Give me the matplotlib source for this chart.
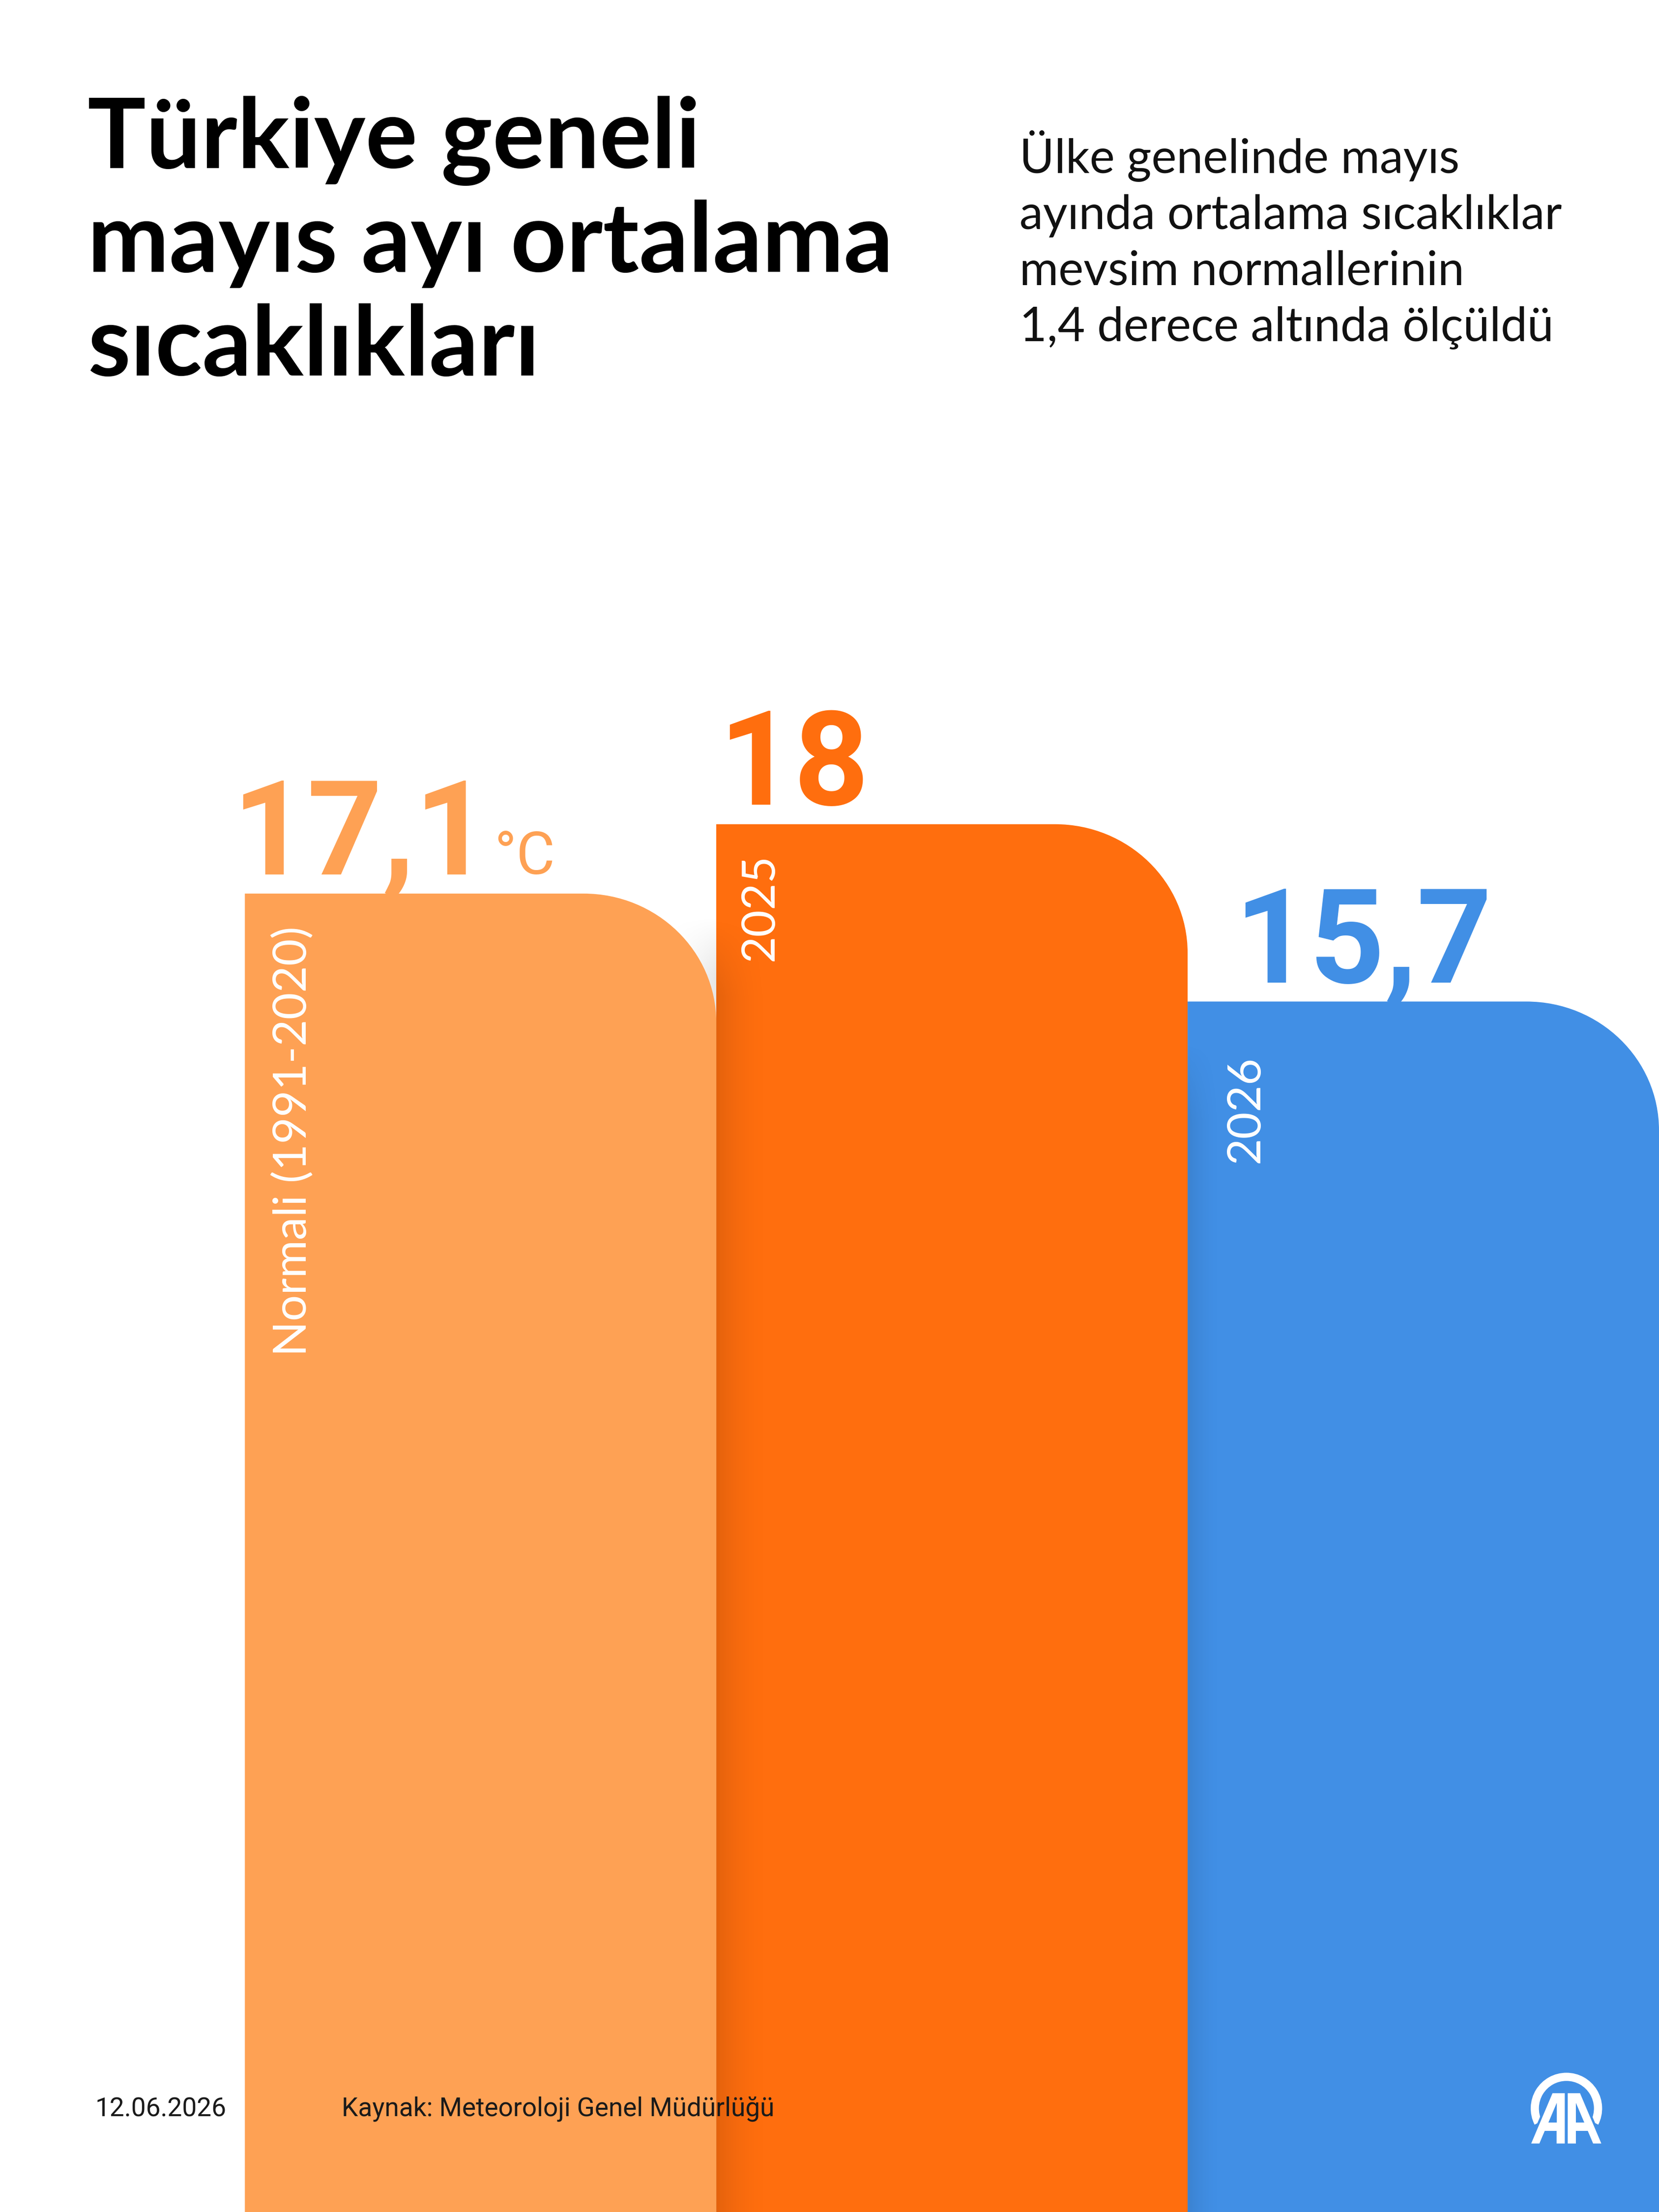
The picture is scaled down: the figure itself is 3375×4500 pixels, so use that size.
import matplotlib
matplotlib.use("Agg")
import matplotlib.pyplot as plt
import numpy as np
from matplotlib.path import Path
from matplotlib.patches import PathPatch, Polygon, Wedge
import matplotlib.patheffects as pe

# ---------------- data ----------------
categories = ["Normali (1991-2020)", "2025", "2026"]
values = [17.1, 18.0, 15.7]
value_labels = ["17,1", "18", "15,7"]
unit_label = "°C"
bar_colors = ["#FEA154", "#FF6E0E", "#418FE5"]

title_lines = ["Türkiye geneli", "mayıs ayı ortalama", "sıcaklıkları"]
subtitle_lines = ["Ülke genelinde mayıs", "ayında ortalama sıcaklıklar",
                  "mevsim normallerinin", "1,4 derece altında ölçüldü"]
date_text = "12.06.2026"
source_text = "Kaynak: Meteoroloji Genel Müdürlüğü"

# ---------------- layout ----------------
W, H, DPI = 3375, 4500, 300
fig = plt.figure(figsize=(W / DPI, H / DPI), dpi=DPI)
fig.patch.set_facecolor("white")
ax = fig.add_axes([0, 0, 1, 1])
XMIN, XMAX, YMAX = -0.5195, 3.0, 28.69
ax.set_xlim(XMIN, XMAX)
ax.set_ylim(0, YMAX)
ax.axis("off")
sx = W / (XMAX - XMIN)   # px per x unit
sy = H / YMAX            # px per y unit
renderer = fig.canvas.get_renderer()


def px2fy(py):
    return 1 - py / H


def fit_size(text, target_px, base=40, **kw):
    t = fig.text(0, 0, text, fontsize=base, **kw)
    w = t.get_window_extent(renderer).width
    t.remove()
    return base * target_px / w


# ---------------- bars ----------------
bars = ax.bar(np.arange(len(values)), values, width=1.0, align="edge",
              color=bar_colors, zorder=2)
rx_px, ry_px = 270, 262
patches = []
for rect, col in zip(bars, bar_colors):
    x0, w, h = rect.get_x(), rect.get_width(), rect.get_height()
    x1 = x0 + w
    rx, ry = rx_px / sx, ry_px / sy
    k = 0.5523
    verts = [(x0, 0), (x0, h), (x1 - rx, h),
             (x1 - rx * (1 - k), h), (x1, h - ry * (1 - k)), (x1, h - ry),
             (x1, 0), (x0, 0)]
    codes = [Path.MOVETO, Path.LINETO, Path.LINETO,
             Path.CURVE4, Path.CURVE4, Path.CURVE4,
             Path.LINETO, Path.CLOSEPOLY]
    pp = PathPatch(Path(verts, codes), facecolor=col, edgecolor="none", zorder=2)
    ax.add_patch(pp)
    rect.set_visible(False)
    patches.append(pp)


def shadow(x0, x1, ytop, ramp, amax, rgb, left_dark, clip, zorder):
    nx, ny = 200, 200
    t = np.linspace(0, 1, nx)
    ha = (1 - t) ** 2 if left_dark else t ** 2
    yy = np.linspace(0, ytop, ny)
    va = np.clip((ytop - yy) / ramp, 0, 1)
    alpha = amax * va[:, None] * ha[None, :]
    img = np.zeros((ny, nx, 4))
    img[..., 0], img[..., 1], img[..., 2] = rgb
    img[..., 3] = alpha
    im = ax.imshow(img, extent=(x0, x1, 0, ytop), origin="lower",
                   aspect="auto", interpolation="bilinear", zorder=zorder)
    if clip is not None:
        im.set_clip_path(clip)
    return im


# gray shadow on background, left of bar 2 (visible in the curve gap)
shadow(1 - 150 / sx, 1.0, values[0] - 0.25, 0.8, 0.10, (0, 0, 0), False, None, 1.5)
# dark shadow on bar 2 left edge
shadow(1.0, 1.0 + 115 / sx, values[0] - 0.3, 1.0, 0.11, (0, 0, 0), True, patches[1], 2.5)
# dark shadow on bar 3 left edge
shadow(2.0, 2.0 + 75 / sx, values[2] - 0.5, 1.0, 0.09, (0, 0, 0), True, patches[2], 2.5)
ax.set_xlim(XMIN, XMAX)
ax.set_ylim(0, YMAX)

# ---------------- value labels ----------------
val_dx_px = [-26, 5, 95]
val_size = 64
for i, (v, lab, col) in enumerate(zip(values, value_labels, bar_colors)):
    t = ax.annotate(lab, xy=(i + val_dx_px[i] / sx, v), xytext=(0, 9.5),
                    textcoords="offset points", ha="left", va="baseline",
                    fontsize=val_size, fontweight="bold", family="Roboto",
                    color=col, zorder=5)
    if i == 0:
        ax.annotate(unit_label, xy=(1, v), xycoords=(t, "data"),
                    xytext=(2, 9.5), textcoords="offset points",
                    ha="left", va="baseline", fontsize=29, family="Roboto",
                    color=col, zorder=5)

# ---------------- category labels (rotated) ----------------
cat_size = fit_size(categories[0], 875, family="Lato")
cat_dx_px = [125, 116, 145]
cat_gap_px = [66, 60, 110]
for i, (v, c) in enumerate(zip(values, categories)):
    ax.text(i + cat_dx_px[i] / sx, v - cat_gap_px[i] / sy, c, rotation=90,
            rotation_mode="anchor", ha="right", va="baseline",
            fontsize=cat_size, family="Lato", color="white", zorder=5)

# ---------------- title & subtitle ----------------
title_size = fit_size(title_lines[1], 1640, family="Lato", fontweight="bold")
for j, line in enumerate(title_lines):
    fig.text(178 / W, px2fy(342 + 211 * j), line, ha="left", va="baseline",
             fontsize=title_size, fontweight="bold", family="Lato", color="#000000")

sub_size = fit_size(subtitle_lines[1], 1105, family="Lato")
for j, line in enumerate(subtitle_lines):
    fig.text(2074 / W, px2fy(352 + 114 * j), line, ha="left", va="baseline",
             fontsize=sub_size, family="Lato", color="#111111")

# ---------------- footer ----------------
foot_size = fit_size(date_text, 267, family="Roboto")
fig.text(194 / W, px2fy(4305), date_text, ha="left", va="baseline",
         fontsize=foot_size, family="Roboto", color="#1a1a1a", zorder=6)
fig.text(695 / W, px2fy(4305), source_text, ha="left", va="baseline",
         fontsize=foot_size, family="Roboto", color="#1a1a1a", zorder=6)

# ---------------- AA logo ----------------
lax = fig.add_axes([0, 0, 1, 1], zorder=10)
lax.set_xlim(0, W)
lax.set_ylim(H, 0)
lax.axis("off")
lax.patch.set_alpha(0)
ox, oy, sc = 3050, 4150, 1 / 3.0
blue = bar_colors[2]


def L(pts):
    return [(ox + x * sc, oy + y * sc) for x, y in pts]


lax.add_patch(Wedge((ox + 410 * sc, oy + 418 * sc), 218 * sc, 153, 387,
                    width=50 * sc, facecolor="white", edgecolor="none"))
left_A = [(325, 325), (400, 325), (400, 632), (350, 632), (350, 555),
          (277.6, 555), (245, 632), (195, 632)]
left_C = [(350, 384), (350, 505), (298.8, 505)]
for poly, hole in [(left_A, left_C),
                   ([(818 - x, y) for x, y in left_A], [(818 - x, y) for x, y in left_C])]:
    p = Polygon(L(poly), closed=True, facecolor="white", edgecolor="none")
    p.set_path_effects([pe.Stroke(linewidth=2.2, foreground=blue), pe.Normal()])
    lax.add_patch(p)
    lax.add_patch(Polygon(L(hole), closed=True, facecolor=blue, edgecolor="none"))

fig.savefig("out.png", dpi=DPI, facecolor="white")
